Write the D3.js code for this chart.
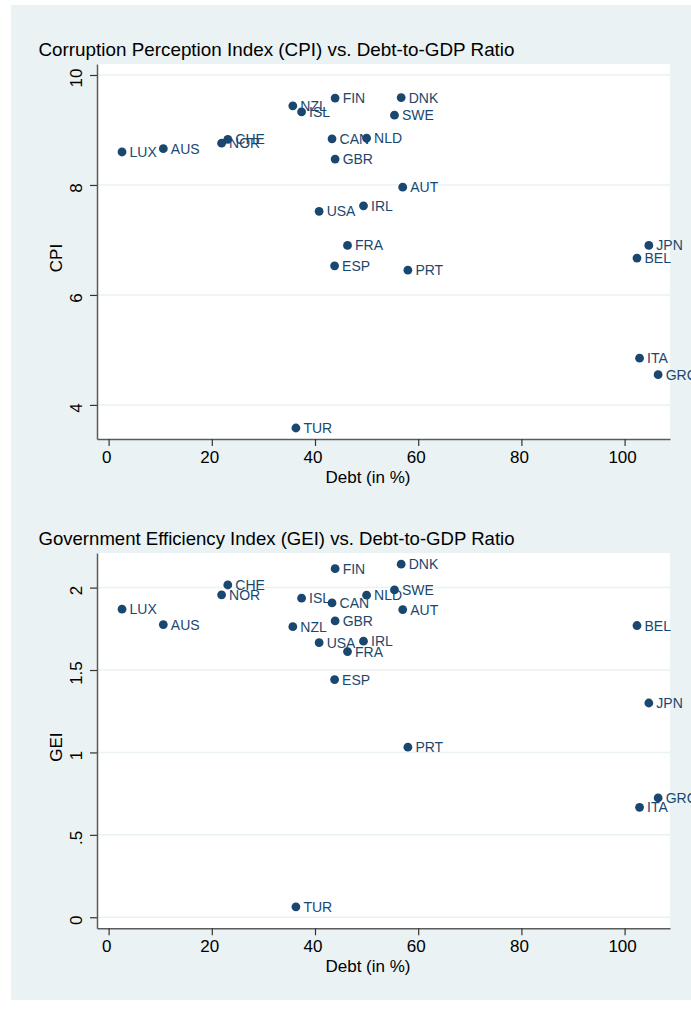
<!DOCTYPE html>
<html>
<head>
<meta charset="utf-8">
<script src="https://cdn.jsdelivr.net/npm/d3@7"></script>
<style>
  html, body { margin: 0; padding: 0; background: #ffffff; }
  svg { display: block; font-family: "Liberation Sans", Arial, sans-serif; }
</style>
</head>
<body>
<svg id="chart" width="691" height="1011"></svg>
<script>
// ---- data ----
const countries = ["LUX","AUS","NOR","CHE","NZL","ISL","FIN","DNK","SWE","CAN","NLD","GBR",
                   "AUT","USA","IRL","FRA","JPN","ESP","BEL","PRT","ITA","GRC","TUR"];
const debt = [2.6, 10.6, 21.9, 23.1, 35.7, 37.4, 43.9, 56.7, 55.4, 43.3, 50.0, 43.9,
              57.0, 40.8, 49.4, 46.3, 104.7, 43.8, 102.4, 58.0, 102.9, 106.5, 36.3];
const cpi  = [8.6, 8.66, 8.76, 8.83, 9.44, 9.33, 9.58, 9.59, 9.27, 8.84, 8.85, 8.47,
              7.96, 7.52, 7.62, 6.9, 6.9, 6.53, 6.67, 6.45, 4.85, 4.55, 3.58];
const gei  = [1.869, 1.776, 1.956, 2.016, 1.763, 1.936, 2.115, 2.142, 1.986, 1.907, 1.954, 1.798,
              1.867, 1.666, 1.675, 1.612, 1.30, 1.442, 1.77, 1.032, 0.667, 0.724, 0.063];

const xTicks = [0, 20, 40, 60, 80, 100];
const cpiTicks = [4, 6, 8, 10];
const geiTicks = [0, 0.5, 1, 1.5, 2];
const geiTickLabels = ["0", ".5", "1", "1.5", "2"];

const titles = ["Corruption Perception Index (CPI) vs. Debt-to-GDP Ratio",
                "Government Efficiency Index (GEI) vs. Debt-to-GDP Ratio"];
const yTitles = ["CPI", "GEI"];
const xTitle = "Debt (in %)";

// ---- styling ----
const BG = "#eaf2f3";
const MARK = "#1a476f";
const AXIS = "#5b5b5b";

const svg = d3.select("#chart");
svg.append("rect").attr("x", 11).attr("y", 5).attr("width", 680).attr("height", 995).attr("fill", BG);

const panels = [
  { title: titles[0], ytitle: yTitles[0], yvals: cpi, ydom: [3.38, 10.2], ticks: cpiTicks,
    fmt: d => String(d), top: 64, bottom: 439, titleY: 55.5 },
  { title: titles[1], ytitle: yTitles[1], yvals: gei, ydom: [-0.067, 2.21], ticks: geiTicks,
    fmt: (d, i) => geiTickLabels[i], top: 553, bottom: 928.3, titleY: 545 }
];

const left = 97, right = 670;

panels.forEach(p => {
  const g = svg.append("g");
  const x = d3.scaleLinear().domain([-2.25, 108.8]).range([left, right]);
  const y = d3.scaleLinear().domain(p.ydom).range([p.bottom, p.top]);

  // plot region
  g.append("rect").attr("x", left).attr("y", p.top)
    .attr("width", right - left).attr("height", p.bottom - p.top).attr("fill", "#ffffff");

  // gridlines
  g.append("g").selectAll("line").data(p.ticks).join("line")
    .attr("x1", left).attr("x2", right)
    .attr("y1", d => y(d)).attr("y2", d => y(d))
    .attr("stroke", BG).attr("stroke-width", 1.5);

  // title
  g.append("text").attr("x", 38.5).attr("y", p.titleY)
    .attr("font-size", 19).attr("fill", "#000")
    .attr("textLength", 476).attr("lengthAdjust", "spacingAndGlyphs").text(p.title);

  // x axis
  const xa = g.append("g").attr("transform", `translate(0,${p.bottom})`)
    .call(d3.axisBottom(x).tickValues(xTicks).tickSize(7).tickSizeOuter(0).tickPadding(5));
  xa.select(".domain").attr("stroke", AXIS).attr("stroke-width", 1.5);
  xa.selectAll(".tick line").attr("stroke", "#333").attr("stroke-width", 1.2);
  xa.selectAll(".tick text").attr("font-size", 17).attr("fill", "#000")
    .attr("font-family", "Liberation Sans, Arial, sans-serif").attr("dx", -2.5);

  // y axis
  const ya = g.append("g").attr("transform", `translate(${left},0)`)
    .call(d3.axisLeft(y).tickValues(p.ticks).tickFormat(p.fmt).tickSize(7).tickSizeOuter(0));
  ya.select(".domain").attr("stroke", AXIS).attr("stroke-width", 1.5);
  ya.selectAll(".tick line").attr("stroke", "#333").attr("stroke-width", 1.2);
  ya.selectAll(".tick text")
    .attr("font-size", 17).attr("fill", "#000")
    .attr("font-family", "Liberation Sans, Arial, sans-serif")
    .attr("x", null).attr("dy", null)
    .attr("text-anchor", "middle")
    .attr("transform", "translate(-15.5,2.5) rotate(-90)");

  // axis titles
  g.append("text").attr("x", 368).attr("y", p.bottom + 44)
    .attr("text-anchor", "middle").attr("font-size", 17).attr("fill", "#000").text(xTitle);
  const cy = (p.top + p.bottom) / 2 + 6.5;
  g.append("text").attr("transform", `translate(61.5,${cy}) rotate(-90)`)
    .attr("text-anchor", "middle").attr("font-size", 17).attr("fill", "#000").text(p.ytitle);

  // points
  const pts = countries.map((c, i) => ({ c, x: debt[i], y: p.yvals[i] }));
  g.append("g").selectAll("circle").data(pts).join("circle")
    .attr("cx", d => x(d.x)).attr("cy", d => y(d.y)).attr("r", 4.4).attr("fill", MARK);
  g.append("g").selectAll("text").data(pts).join("text")
    .attr("x", d => x(d.x) + 7.5).attr("y", d => y(d.y)).attr("dy", "0.36em")
    .attr("font-size", 14).attr("fill", MARK).text(d => d.c);
});
</script>
</body>
</html>
